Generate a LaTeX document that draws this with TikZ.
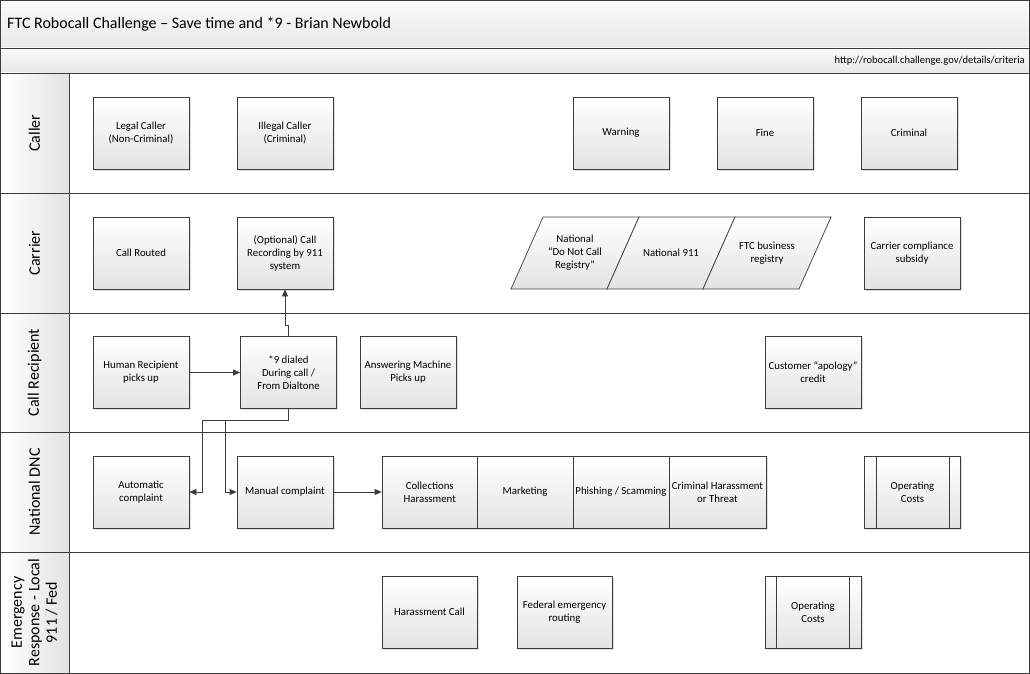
\documentclass[tikz,border=0pt]{standalone}
\usepackage{fontspec}
\setmainfont{Carlito}
\usetikzlibrary{arrows.meta,shadows,calc}
\definecolor{edge}{HTML}{3C3C3C}
\tikzset{
  box/.style={draw=edge, line width=0.7pt, top color=white, bottom color=black!11,
    minimum width=96pt, minimum height=72pt, align=center, inner sep=1pt,
    font=\fontsize{10.8}{13}\selectfont,
    drop shadow={shadow xshift=1.5pt, shadow yshift=-1.5pt, opacity=0.25}},
  plain/.style={align=center, inner sep=1pt, font=\fontsize{10.8}{13}\selectfont},
  lanelabel/.style={rotate=90, align=center, font=\fontsize{16}{17.5}\selectfont, inner sep=0pt},
  conn/.style={draw=edge, line width=0.7pt},
  arr/.style={conn, -{Triangle[length=7pt,width=6pt]}},
  frame/.style={draw=edge, line width=0.8pt}
}
\begin{document}
\begin{tikzpicture}[x=1pt,y=-1pt]
\useasboundingbox (0,0) rectangle (1030,674);
% header bars
\shade[top color=black!2, bottom color=black!9] (0.5,0.5) rectangle (1029,48);
\shade[top color=black!2, bottom color=black!9] (0.5,48) rectangle (1029,73);
% label column
\shade[left color=white, right color=black!11] (0.5,73) rectangle (69,673);
% lines
\draw[frame] (0.5,0.5) rectangle (1029,673);
\foreach \yy in {48,73,193,313,432,552} \draw[frame] (0.5,\yy) -- (1029,\yy);
\draw[frame] (69,73) -- (69,673);
% header texts
\node[anchor=west, inner sep=0pt, font=\fontsize{16}{18}\selectfont] (title) at (7,24) {FTC Robocall Challenge -- Save time and *9 - Brian Newbold};
\node[anchor=east, inner sep=0pt, font=\fontsize{10.5}{12}\selectfont] (url) at (1025,60.5) {http://robocall.challenge.gov/details/criteria};
% lane labels
\node[lanelabel] (lcaller) at (34.5,133) {Caller};
\node[lanelabel] (lcarrier) at (34.5,253) {Carrier};
\node[lanelabel] (lrecip) at (34.5,372.5) {Call Recipient};
\node[lanelabel] (ldnc) at (34.5,492) {National DNC};
\node[lanelabel] (lemerg) at (34.5,612.5) {Emergency\\Response - Local\\911 / Fed};
% Caller lane
\node[box] (legal) at (141,133) {Legal Caller\\(Non-Criminal)};
\node[box] (illegal) at (285,133) {Illegal Caller\\(Criminal)};
\node[box] (warning) at (621,133) {Warning};
\node[box] (fine) at (765,133) {Fine};
\node[box] (criminal) at (909,133) {Criminal};
% Carrier lane
\node[box] (routed) at (141,253) {Call Routed};
\node[box] (rec) at (285,253) {(Optional) Call\\Recording by 911\\system};
\foreach \xa/\xb in {511/607,607/703,703/799}{
  \shade[top color=white, bottom color=black!11, draw=edge, line width=0.7pt]
    (\xa,289) -- (\xa+32,217) -- (\xb+32,217) -- (\xb,289) -- cycle;
}
\node[plain] (dnc) at (575,253) {National\\``Do Not Call\\Registry''};
\node[plain] (n911) at (671,253) {National 911};
\node[plain] (ftcreg) at (767,253) {FTC business\\registry};
\node[box] (subsidy) at (912,253) {Carrier compliance\\subsidy};
% Call Recipient lane
\node[box] (human) at (141,372.5) {Human Recipient\\picks up};
\node[box] (star) at (288.5,372.5) {*9 dialed\\During call /\\From Dialtone};
\node[box] (answer) at (408,372.5) {Answering Machine\\Picks up};
\node[box] (apology) at (813,372.5) {Customer ``apology''\\credit};
% National DNC lane
\node[box] (auto) at (141,492) {Automatic\\complaint};
\node[box] (manual) at (285,492) {Manual complaint};
\node[box, minimum width=95.5pt] (coll) at (429.75,492) {Collections\\Harassment};
\node[box, minimum width=96pt] (mkt) at (525,492) {Marketing};
\node[box, minimum width=96pt] (phish) at (621,492) {Phishing / Scamming};
\node[box, minimum width=97pt] (crimh) at (717.5,492) {Criminal Harassment\\or Threat};
\node[box] (op1) at (912.5,492) {Operating\\Costs};
\draw[conn] ($(op1.north west)+(12,0)$) -- ($(op1.south west)+(12,0)$);
\draw[conn] ($(op1.north east)+(-12,0)$) -- ($(op1.south east)+(-12,0)$);
% Emergency lane
\node[box, minimum width=95pt] (harass) at (429.5,612) {Harassment Call};
\node[box, minimum width=95pt] (fedroute) at (564.5,612) {Federal emergency\\routing};
\node[box] (op2) at (813,612) {Operating\\Costs};
\draw[conn] ($(op2.north west)+(12,0)$) -- ($(op2.south west)+(12,0)$);
\draw[conn] ($(op2.north east)+(-12,0)$) -- ($(op2.south east)+(-12,0)$);
% connectors
\coordinate (up) at (288.5,325);
\coordinate (j1) at (202,420);
\coordinate (j2) at (225,420);
\draw[arr] (human.east) -- (star.west);
\draw[arr] (star.north) -- (up) -| (rec.south);
\draw[arr] (star.south) |- (j1) |- (auto.east);
\draw[arr] (j2) |- (manual.west);
\draw[arr] (manual.east) -- (coll.west);
\end{tikzpicture}
\end{document}
